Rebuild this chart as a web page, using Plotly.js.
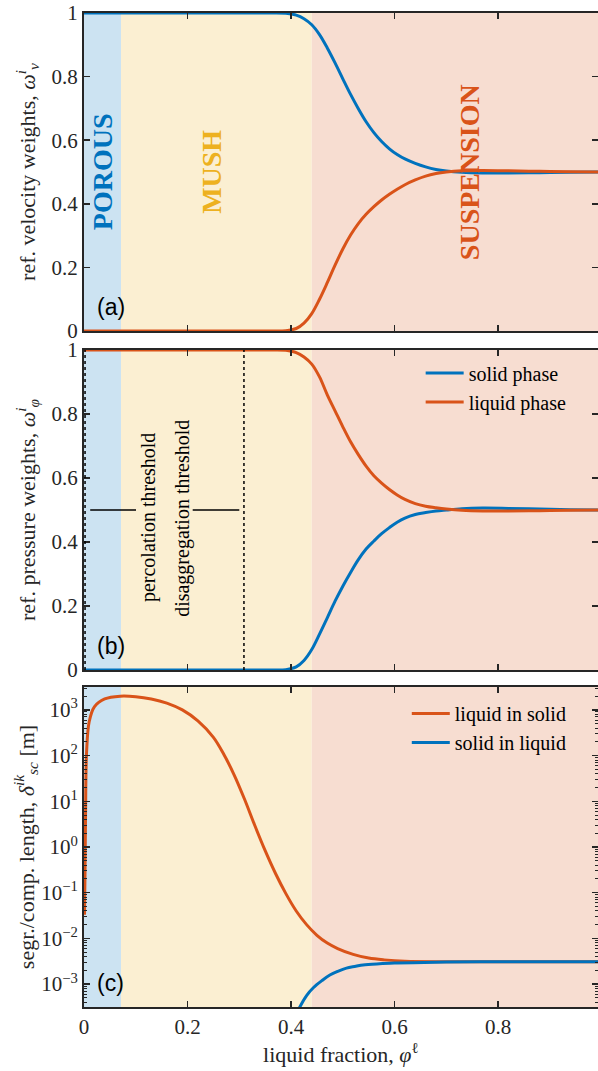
<!DOCTYPE html>
<html><head><meta charset="utf-8">
<script src="https://cdn.plot.ly/plotly-3.0.1.min.js"></script>
<style>html,body{margin:0;padding:0;background:#fff}#chart{width:598px;height:1071px}</style>
</head><body><div id="chart"></div>
<script>
// ---------- data ----------
const phiGrid = [0, 0.1, 0.2, 0.3, 0.36, 0.39, 0.41, 0.425, 0.44, 0.455, 0.47, 0.485, 0.5, 0.515, 0.53, 0.545, 0.56, 0.575, 0.59, 0.605, 0.62, 0.64, 0.66, 0.68, 0.70, 0.73, 0.77, 0.82, 0.88, 0.94, 0.993];
// (a) velocity weights
const velSolid  = [1, 1, 1, 1, 1, 0.999, 0.993, 0.982, 0.963, 0.932, 0.89, 0.843, 0.793, 0.744, 0.699, 0.658, 0.624, 0.596, 0.573, 0.555, 0.541, 0.527, 0.516, 0.508, 0.503, 0.499, 0.497, 0.497, 0.498, 0.499, 0.5];
const velLiquid = [0, 0, 0, 0, 0, 0.001, 0.008, 0.025, 0.055, 0.1, 0.152, 0.207, 0.258, 0.302, 0.338, 0.367, 0.391, 0.412, 0.43, 0.446, 0.46, 0.475, 0.487, 0.495, 0.5, 0.504, 0.505, 0.504, 0.502, 0.501, 0.5];
// (b) pressure weights
const presSolid  = [0, 0, 0, 0, 0, 0.001, 0.01, 0.03, 0.064, 0.112, 0.163, 0.215, 0.262, 0.305, 0.345, 0.378, 0.403, 0.426, 0.445, 0.462, 0.475, 0.486, 0.492, 0.497, 0.5, 0.504, 0.506, 0.505, 0.503, 0.501, 0.5];
const presLiquid = [1, 1, 1, 1, 1, 0.999, 0.992, 0.978, 0.956, 0.916, 0.86, 0.81, 0.76, 0.713, 0.673, 0.637, 0.607, 0.584, 0.564, 0.547, 0.533, 0.52, 0.512, 0.507, 0.503, 0.499, 0.497, 0.497, 0.498, 0.499, 0.5];
// (c) segregation / compaction length [m]
const phiLiqInSol = [0.001, 0.002, 0.003, 0.005, 0.01, 0.02, 0.04, 0.07, 0.1, 0.13, 0.16, 0.19, 0.22, 0.25, 0.27, 0.29, 0.31, 0.33, 0.35, 0.37, 0.39, 0.41, 0.43, 0.45, 0.47, 0.49, 0.52, 0.55, 0.58, 0.62, 0.7, 0.8, 0.9, 0.993];
const liqInSol    = [0.033, 0.3, 5, 120, 550, 1170, 1740, 2000, 1950, 1740, 1410, 1000, 575, 251, 107, 38, 11.2, 2.95, 0.83, 0.263, 0.0955, 0.0398, 0.02, 0.0117, 0.0079, 0.006, 0.00447, 0.00372, 0.00339, 0.00316, 0.00309, 0.00309, 0.00309, 0.00309];
const phiSolInLiq = [0.405, 0.417, 0.43, 0.443, 0.46, 0.475, 0.49, 0.507, 0.525, 0.539, 0.571, 0.6, 0.636, 0.7, 0.8, 0.9, 0.993];
const solInLiq    = [0.000158, 0.000316, 0.000562, 0.000832, 0.0012, 0.00158, 0.0019, 0.00224, 0.00245, 0.00263, 0.00279, 0.00288, 0.00295, 0.00305, 0.00309, 0.00309, 0.00309];
// regimes
const regionNames  = ['POROUS', 'MUSH', 'SUSPENSION'];
const regionEdges  = [0, 0.0715, 0.44, 0.993];
const regionLabelX = [0.037, 0.247, 0.746];
// thresholds
const thresholdNames = ['percolation threshold', 'disaggregation threshold'];
const thresholdPhi   = [0.002, 0.309];
// ticks
const linTickVals = [0, 0.2, 0.4, 0.6, 0.8, 1];
const logTickVals = [0.001, 0.01, 0.1, 1, 10, 100, 1000];
const logTickText = ['10<sup>−3</sup>', '10<sup>−2</sup>', '10<sup>−1</sup>', '10<sup>0</sup>', '10<sup>1</sup>', '10<sup>2</sup>', '10<sup>3</sup>'];
const xTickVals = [0, 0.2, 0.4, 0.6, 0.8];

// ---------- style ----------
const BLUE = '#0072BD', ORANGE = '#D95319', YELLOW = '#EDB120';
const FILLS = ['#cce3f2', '#fbefd2', '#f7ddd1'];
const SERIF = '"Liberation Serif", "Times New Roman", serif';
const SANS = '"Liberation Sans", Arial, sans-serif';
const INK = '#262626';
const XR = [0, 0.993];
const TICKF = {family: SERIF, size: 21, color: INK};
const TITLEF = {family: SERIF, size: 22, color: INK};

const traces = [
  {x: phiGrid, y: velSolid, xaxis: 'x', yaxis: 'y', mode: 'lines', line: {color: BLUE, width: 3, shape: 'spline'}, showlegend: false},
  {x: phiGrid, y: velLiquid, xaxis: 'x', yaxis: 'y', mode: 'lines', line: {color: ORANGE, width: 3, shape: 'spline'}, showlegend: false},
  {x: phiGrid, y: presSolid, xaxis: 'x2', yaxis: 'y2', mode: 'lines', name: 'solid phase', legend: 'legend', line: {color: BLUE, width: 3, shape: 'spline'}},
  {x: phiGrid, y: presLiquid, xaxis: 'x2', yaxis: 'y2', mode: 'lines', name: 'liquid phase', legend: 'legend', line: {color: ORANGE, width: 3, shape: 'spline'}},
  {x: phiLiqInSol, y: liqInSol, xaxis: 'x3', yaxis: 'y3', mode: 'lines', name: 'liquid in solid', legend: 'legend2', line: {color: ORANGE, width: 3, shape: 'spline'}},
  {x: phiSolInLiq, y: solInLiq, xaxis: 'x3', yaxis: 'y3', mode: 'lines', name: 'solid in liquid', legend: 'legend2', line: {color: BLUE, width: 3, shape: 'spline'}}
];

function xax(anchor, showLabels) {
  return {
    anchor: anchor, domain: [0, 1], range: XR, tickmode: 'array', tickvals: xTickVals,
    showticklabels: showLabels, ticks: 'inside', ticklen: 6, tickwidth: 1.5, tickcolor: INK,
    showline: true, linecolor: INK, linewidth: 2, mirror: 'ticks', showgrid: false, zeroline: false,
    tickfont: TICKF
  };
}
function yax(anchor, domain, title, standoff) {
  return {
    anchor: anchor, domain: domain, range: [0, 1], tickmode: 'array', tickvals: linTickVals,
    ticks: 'inside', ticklen: 6, tickwidth: 1.5, tickcolor: INK,
    showline: true, linecolor: INK, linewidth: 2, mirror: 'ticks', showgrid: false, zeroline: false,
    tickfont: TICKF,
    title: {text: title, font: TITLEF, standoff: standoff}
  };
}

const xaxis3 = xax('y3', true);
xaxis3.title = {text: 'liquid fraction, <i>φ</i><sup>ℓ</sup>', font: TITLEF, standoff: 6};

const yaxis3 = {
  anchor: 'x3', domain: [0.0598, 0.3585], type: 'log', range: [-3.5, 3.5],
  tickmode: 'array', tickvals: logTickVals, ticktext: logTickText,
  ticks: 'inside', ticklen: 6, tickwidth: 1.5, tickcolor: INK,
  minor: {ticks: 'inside', ticklen: 3, tickwidth: 1, tickcolor: INK, dtick: 'D1'},
  showline: true, linecolor: INK, linewidth: 2, mirror: 'ticks', showgrid: false, zeroline: false,
  tickfont: TICKF,
  title: {text: 'segr./comp. length, <i>δ</i><sup><i>ik</i></sup><sub><i>sc</i></sub> [m]', font: TITLEF, standoff: 0}
};

// background regime shapes
const shapes = [];
['y', 'y2', 'y3'].forEach(ya => {
  for (let i = 0; i < regionNames.length; i++) {
    shapes.push({type: 'rect', layer: 'below', xref: 'x' + (ya === 'y' ? '' : ya.slice(1)), yref: ya + ' domain',
      x0: regionEdges[i], x1: regionEdges[i + 1], y0: 0, y1: 1, fillcolor: FILLS[i], line: {width: 0}});
  }
});
// threshold lines in (b)
thresholdPhi.forEach(p => {
  shapes.push({type: 'line', layer: 'above', xref: 'x2', yref: 'y2', x0: p, x1: p, y0: 0, y1: 1,
    line: {color: '#000', width: 1.5, dash: 'dot'}});
});
// pointer lines for threshold labels
shapes.push({type: 'line', xref: 'x2', yref: 'y2', x0: 0.012, x1: 0.1005, y0: 0.5, y1: 0.5, line: {color: '#000', width: 1.3}});
shapes.push({type: 'line', xref: 'x2', yref: 'y2', x0: 0.21, x1: 0.30, y0: 0.5, y1: 0.5, line: {color: '#000', width: 1.3}});

const annotations = [];
const regionColors = [BLUE, YELLOW, ORANGE];
regionNames.forEach((n, i) => {
  annotations.push({text: '<b>' + n + '</b>', xref: 'x', yref: 'y', x: regionLabelX[i], y: 0.5, textangle: -90,
    showarrow: false, font: {family: SERIF, size: 28, color: regionColors[i]}});
});
const thresholdLabelX = [0.1237, 0.189];
thresholdNames.forEach((n, i) => {
  annotations.push({text: n, xref: 'x2', yref: 'y2', x: thresholdLabelX[i], y: 0.475, textangle: -90,
    showarrow: false, font: {family: SERIF, size: 20, color: '#000'}});
});
[['(a)', 'x', 'y'], ['(b)', 'x2', 'y2'], ['(c)', 'x3', 'y3']].forEach(([t, xa, ya]) => {
  annotations.push({text: t, xref: xa + ' domain', yref: ya + ' domain', x: 0.022, y: 0.075, xanchor: 'left', yanchor: 'middle',
    showarrow: false, font: {family: SANS, size: 23, color: '#000'}});
});

const layout = {
  width: 598, height: 1071,
  margin: {l: 84, r: 0, t: 0, b: 0},
  paper_bgcolor: '#fff', plot_bgcolor: '#fff',
  font: {family: SERIF, size: 20, color: INK},
  xaxis: xax('y', false),
  yaxis: yax('x', [0.6909, 0.9879], 'ref. velocity weights, <i>ω</i><sup><i>i</i></sup><sub><i>v</i></sub>', 10),
  xaxis2: xax('y2', false),
  yaxis2: yax('x2', [0.3744, 0.6732], 'ref. pressure weights, <i>ω</i><sup><i>i</i></sup><sub><i>φ</i></sub>', 10),
  xaxis3: xaxis3,
  yaxis3: yaxis3,
  legend: {x: 0.655, y: 0.67, xanchor: 'left', yanchor: 'top',
    bgcolor: 'rgba(0,0,0,0)', borderwidth: 0, font: {family: SERIF, size: 20, color: '#000'}, itemwidth: 38, tracegroupgap: 0},
  legend2: {x: 0.628, y: 0.352, xanchor: 'left', yanchor: 'top',
    bgcolor: 'rgba(0,0,0,0)', borderwidth: 0, font: {family: SERIF, size: 20, color: '#000'}, itemwidth: 38, tracegroupgap: 0},
  shapes: shapes,
  annotations: annotations
};

Plotly.newPlot('chart', traces, layout, {displayModeBar: false, staticPlot: true});
</script>
</body></html>
